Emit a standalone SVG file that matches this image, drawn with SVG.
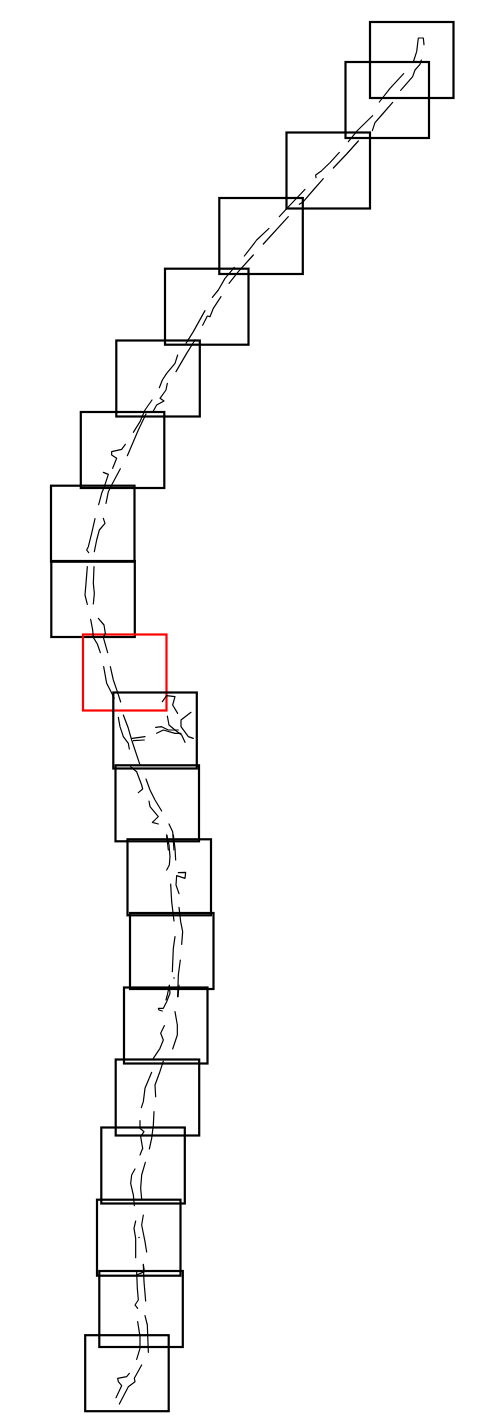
<svg xmlns="http://www.w3.org/2000/svg" width="477" height="1415" viewBox="0 0 477 1415">
<style>
rect{fill:none;stroke:#000;stroke-width:2.2}
#n10 rect{stroke:#f00}
.t path{fill:none;stroke:#000;stroke-width:3.6;stroke-linejoin:round;stroke-linecap:round}
.d{fill:#000}
</style>
<rect x="0" y="0" width="477" height="1415" style="fill:#fff;stroke:none"/>
<g id="n1"><rect x="370" y="22" width="83.5" height="76"/></g>
<g id="n2"><rect x="345.5" y="62" width="83.5" height="76"/></g>
<g id="n3"><rect x="286.5" y="132.5" width="83.5" height="76"/></g>
<g id="n4"><rect x="219.3" y="198" width="83.5" height="76"/></g>
<g id="n5"><rect x="165" y="268.7" width="83.5" height="76"/></g>
<g id="n6"><rect x="116.3" y="340.5" width="83.5" height="76"/></g>
<g id="n7"><rect x="80.8" y="412" width="83.5" height="76"/></g>
<g id="n8"><rect x="51" y="485.7" width="83.5" height="76"/></g>
<g id="n9"><rect x="51.3" y="561" width="83.5" height="76"/></g>
<g id="n10"><rect x="83" y="634.5" width="83.5" height="76"/></g>
<g id="n11"><rect x="113.3" y="692.5" width="83.5" height="76"/></g>
<g id="n12"><rect x="115.5" y="765.3" width="83.5" height="76"/></g>
<g id="n13"><rect x="127.5" y="839.3" width="83.5" height="76"/></g>
<g id="n14"><rect x="130" y="913" width="83.5" height="76"/></g>
<g id="n15"><rect x="124" y="987.5" width="83.5" height="76"/></g>
<g id="n16"><rect x="115.7" y="1059.5" width="83.5" height="76"/></g>
<g id="n17"><rect x="101.3" y="1127.5" width="83.5" height="76"/></g>
<g id="n18"><rect x="97" y="1199.7" width="83.5" height="76"/></g>
<g id="n19"><rect x="99.3" y="1271" width="83.5" height="76"/></g>
<g id="n20"><rect x="85.2" y="1335.2" width="83.5" height="76"/></g>
<g id="connectors" class="t">
<g transform="translate(280,10) scale(.33333)">
<path d="M432 104L430 84L415 84L410 125L400 156"/>
<path d="M424 150L420 163L405 180L398 200L362 241"/>
<path d="M371 191L330 235L298 276"/>
<path d="M338 277L305 315L285 338L277 362"/>
<path d="M235 393L200 432L160 474"/>
<path d="M278 317L232 362L205 395"/>
<path d="M178 427L150 458L125 482L107 495L108 503"/>
<path d="M130 506L100 540L70 575L58 583"/>
<path d="M75 538L40 575L18 598L-2 620"/>
</g>
<g transform="translate(150,190) scale(.33333)">
<path d="M415 80L340 162"/>
<path d="M357 115L320 150L305 170L283 198"/>
<path d="M310 195L265 245L237 280"/>
<path d="M253 232L225 265L205 300L187 322"/>
<path d="M213 320L190 355L180 380L172 378L158 406"/>
<path d="M165 362L130 425L108 460"/>
</g>
<g transform="translate(40,340) scale(.33333)">
<path d="M465 0L440 40L408 95"/>
<path d="M413 45L405 70L380 100L367 120L358 143"/>
<path d="M382 130L378 150L360 175L372 183L350 195L340 213"/>
<path d="M336 180L315 210L300 245L280 277"/>
<path d="M318 222L295 270L262 347"/>
<path d="M256 313L245 328L215 335L215 345L230 355L218 385"/>
<path d="M190 397L205 403L193 440L185 460L176 494"/>
<path d="M241 386L215 435L205 455L198 490"/>
<path d="M165 536L155 580L145 620L140 630L146 638"/>
<path d="M190 535L195 550L178 570L170 600L163 635"/>
</g>
<g transform="translate(40,550) scale(.33333)">
<path d="M142 50L138 100L135 135L142 163"/>
<path d="M162 50L160 100L163 130L160 162"/>
<path d="M152 208L158 240L160 262L172 282L181 308"/>
<path d="M175 205L192 225L196 250L190 262L203 308"/>
<path d="M191 350L200 400L218 435L222 445"/>
<path d="M211 350L220 390L232 425L242 456"/>
</g>
<g transform="translate(100,685) scale(.33333)">
<path d="M55 97L60 125L70 155L85 175L88 192"/>
<path d="M70 90L85 130L95 165L120 240"/>
<path d="M97 160L135 155"/>
<path d="M100 167L133 165"/>
<path d="M187 50L200 32L225 35L218 60L233 85"/>
<path d="M273 82L243 105L243 125L265 155L280 160"/>
<path d="M202 93L207 120L225 135L245 150L255 172"/>
<path d="M167 127L185 125L205 135L235 135"/>
<path d="M170 145L190 135L225 145L243 145"/>
<path d="M92 245L110 260L125 300L128 312L115 323"/>
<path d="M138 282L150 315L165 345L185 378"/>
<path d="M147 348L150 365L175 395L157 412L175 417"/>
<path d="M207 417L218 440L222 495"/>
<path d="M200 450L205 495"/>
</g>
<g transform="translate(110,835) scale(.33333)">
<path d="M170 0L177 30L180 65L178 90L170 105"/>
<path d="M190 0L195 40L197 75"/>
<path d="M207 176L198 150L200 122L225 130L227 112L205 113"/>
<path d="M182 147L185 200L192 258"/>
<path d="M207 217L212 260L218 290L215 328"/>
<path d="M195 305L190 340L187 410"/>
<path d="M211 375L205 420L203 485"/>
<path d="M178 452L172 480L168 495"/>
</g>
<g transform="translate(100,985) scale(.33333)">
<path d="M208 0L210 25L200 50L190 70L175 70L177 75L187 78"/>
<path d="M237 0L234 35"/>
<path d="M225 80L232 120L232 150L218 192"/>
<path d="M193 122L182 145L190 165L180 190L160 220"/>
<path d="M190 228L178 265L165 300L167 335"/>
<path d="M155 262L135 310L130 350L124 368"/>
<path d="M162 380L160 420L155 460L148 492"/>
<path d="M120 407L120 430L132 440L122 455L128 490"/>
</g>
<g transform="translate(80,1125) scale(.33333)">
<path d="M188 70L180 90"/>
<path d="M196 112L185 150L182 190L185 222"/>
<path d="M165 132L155 150L152 175L160 210L163 242"/>
<path d="M190 270L185 300L195 350L200 381"/>
<path d="M167 288L162 310L167 340L167 398"/>
<path d="M190 418L193 440L170 450"/>
</g>
<g transform="translate(75,1265) scale(.33333)">
<path d="M185 20L187 70L190 105L180 120L188 130"/>
<path d="M205 0L207 50L212 108"/>
<path d="M210 152L217 180L220 262"/>
<path d="M188 170L195 215L195 250L185 283"/>
<path d="M200 300L178 340L180 350L160 365L133 417"/>
<path d="M163 325L155 335L128 340L130 350L140 362L123 398"/>
</g>
</g>
<circle class="d" cx="174" cy="978" r=".8"/>
<circle class="d" cx="139" cy="1237.5" r=".8"/>
</svg>
